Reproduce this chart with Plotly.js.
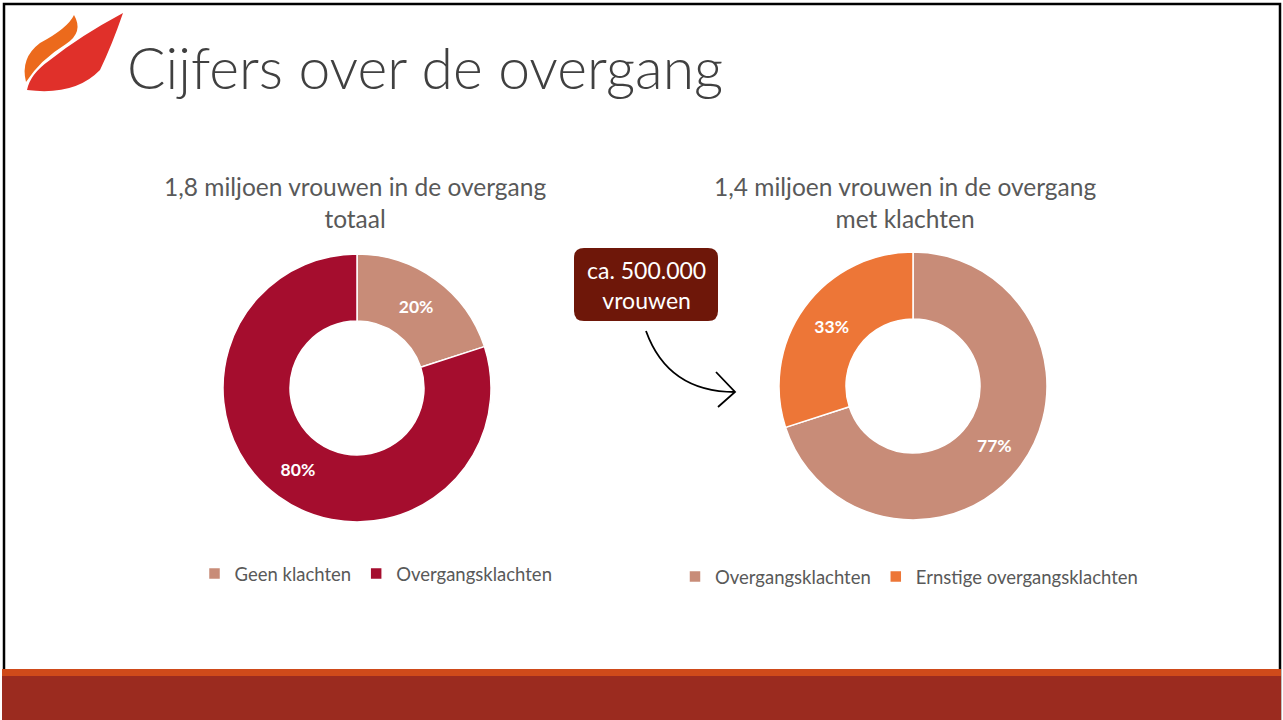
<!DOCTYPE html>
<html><head><meta charset="utf-8">
<script src="https://cdn.plot.ly/plotly-3.0.1.min.js"></script>
<style>html,body{margin:0;padding:0;background:#fff;}#chart{width:1283px;height:720px;}</style>
</head><body><div id="chart"></div>
<script>
// Data
const slideTitle = "Cijfers over de overgang";
const chart1Title = "1,8 miljoen vrouwen in de overgang<br>totaal";
const chart1Labels = ["Geen klachten", "Overgangsklachten"];
const chart1Values = [20, 80];
const chart2Title = "1,4 miljoen vrouwen in de overgang<br>met klachten";
// zero-width space keeps this legend entry separate from the first chart's identical label
const chart2Labels = ["Overgangsklachten\u200B", "Ernstige overgangsklachten"];
const chart2Values = [77, 33];
const calloutText = "ca. 500.000<br>vrouwen";

const FONT = "Lato, 'Open Sans', sans-serif";
const GREY = "#595959";
const W = 1283, H = 720;

const pieCommon = {
  type: "pie", hole: 0.5, sort: false, direction: "clockwise", rotation: 0,
  textposition: "inside", insidetextorientation: "horizontal",
  texttemplate: "%{value}%", hoverinfo: "skip",
  textfont: {family: FONT, size: 17.5, color: "#ffffff", weight: 700}
};

const traces = [
  {type: "scatter", x: [], y: [], showlegend: false, hoverinfo: "skip"},
  Object.assign({}, pieCommon, {
    labels: chart1Labels, values: chart1Values,
    marker: {colors: ["#C88C78", "#A50D2E"], line: {color: "#ffffff", width: 1.5}},
    domain: {x: [223 / W, 491 / W], y: [1 - 522 / H, 1 - 254 / H]},
    legend: "legend"
  }),
  Object.assign({}, pieCommon, {
    labels: chart2Labels, values: chart2Values,
    marker: {colors: ["#C88C78", "#ED7637"], line: {color: "#ffffff", width: 1.5}},
    domain: {x: [779 / W, 1047 / W], y: [1 - 520 / H, 1 - 252 / H]},
    legend: "legend2"
  })
];

const shapes = [
  // slide frame
  {type: "rect", xref: "x", yref: "y", x0: 4, x1: 1280, y0: 4, y1: 722, line: {color: "#000", width: 2.5}, fillcolor: "rgba(0,0,0,0)", layer: "above"},
  // bottom bars
  {type: "rect", xref: "x", yref: "y", x0: 2, x1: 1281, y0: 669, y1: 676, line: {width: 0}, fillcolor: "#CF4A1A"},
  {type: "rect", xref: "x", yref: "y", x0: 2, x1: 1281, y0: 676, y1: 722, line: {width: 0}, fillcolor: "#9B2B1F"},
  // logo: orange flame
  {type: "path", xref: "x", yref: "y", line: {width: 0}, fillcolor: "#EC6A1C",
   path: "M 74 15 Q 84 32 66 44 Q 40 60 26 82 Q 20 58 40 43 Q 68 28 74 15 Z"},
  // logo: red flame
  {type: "path", xref: "x", yref: "y", line: {width: 0}, fillcolor: "#E0302A",
   path: "M 123 13 Q 80 36 50 60 Q 30 74 27 90 Q 75 96 100 70 Q 112 45 123 13 Z"},
  // callout box
  {type: "path", xref: "x", yref: "y", line: {width: 0}, fillcolor: "#6E1709",
   path: "M 584 248 L 708 248 Q 718 248 718 258 L 718 311 Q 718 321 708 321 L 584 321 Q 574 321 574 311 L 574 258 Q 574 248 584 248 Z"},
  // arrow curve
  {type: "path", xref: "x", yref: "y", line: {color: "#000", width: 1.8}, fillcolor: "rgba(0,0,0,0)",
   path: "M 646 331 Q 668 392 735 392"},
  {type: "path", xref: "x", yref: "y", line: {color: "#000", width: 1.8}, fillcolor: "rgba(0,0,0,0)",
   path: "M 716 372 L 735 392 L 718 407"}
];

const annotations = [
  {xref: "x", yref: "y", x: 125, y: 67, xanchor: "left", yanchor: "middle", showarrow: false,
   text: slideTitle, font: {family: FONT, size: 57, color: "#404040", weight: 300}},
  {xref: "x", yref: "y", x: 355, y: 202, xanchor: "center", yanchor: "middle", showarrow: false,
   text: chart1Title, font: {family: FONT, size: 24.5, color: GREY}},
  {xref: "x", yref: "y", x: 905, y: 202, xanchor: "center", yanchor: "middle", showarrow: false,
   text: chart2Title, font: {family: FONT, size: 24.5, color: GREY}},
  {xref: "x", yref: "y", x: 646, y: 285, xanchor: "center", yanchor: "middle", showarrow: false,
   text: calloutText, font: {family: FONT, size: 23, color: "#ffffff"}}
];

const layout = {
  width: W, height: H, margin: {l: 0, r: 0, t: 0, b: 0},
  paper_bgcolor: "#ffffff", plot_bgcolor: "rgba(0,0,0,0)",
  font: {family: FONT, color: GREY},
  xaxis: {range: [0, W], visible: false, fixedrange: true, domain: [0, 1]},
  yaxis: {range: [H, 0], visible: false, fixedrange: true, domain: [0, 1]},
  showlegend: true,
  legend: {orientation: "h", x: 376 / W, y: 1 - 574 / H, xanchor: "center", yanchor: "middle",
           font: {family: FONT, size: 18.5, color: GREY}, bgcolor: "rgba(0,0,0,0)", traceorder: "normal"},
  legend2: {orientation: "h", x: 909 / W, y: 1 - 577 / H, xanchor: "center", yanchor: "middle",
           font: {family: FONT, size: 18.5, color: GREY}, bgcolor: "rgba(0,0,0,0)", traceorder: "normal"},
  shapes: shapes, annotations: annotations
};

Plotly.newPlot("chart", traces, layout, {staticPlot: true, displayModeBar: false});
</script></body></html>
